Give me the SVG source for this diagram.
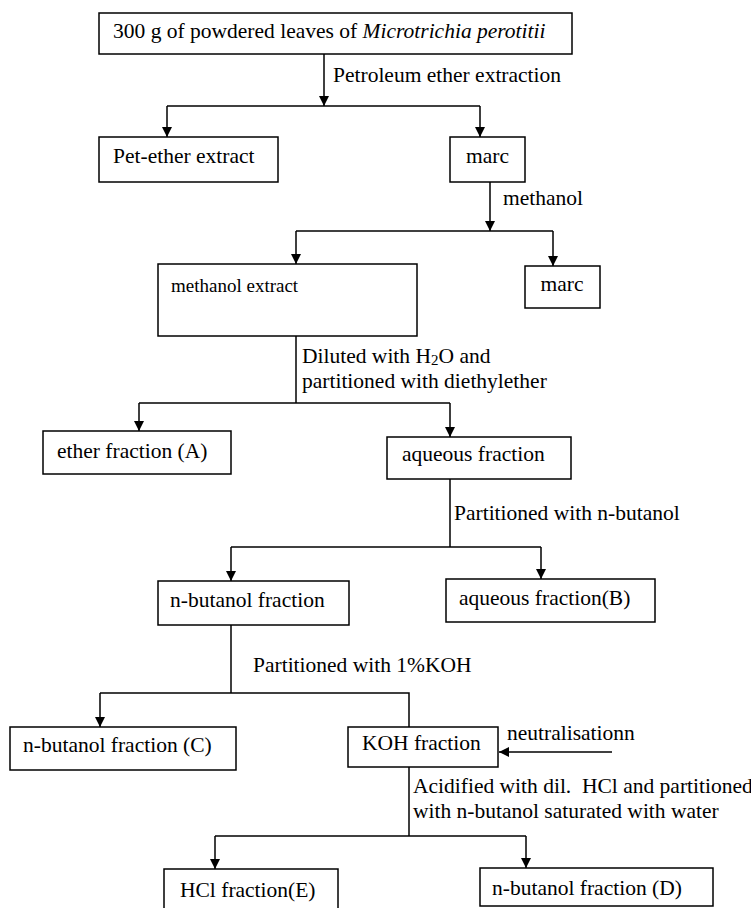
<svg xmlns="http://www.w3.org/2000/svg" width="751" height="908" viewBox="0 0 751 908">
<defs>
<marker id="ah" viewBox="0 0 10 10" refX="10" refY="5" markerWidth="10" markerHeight="10" markerUnits="userSpaceOnUse" orient="auto">
<path d="M0,0 L10,5 L0,10 z" fill="#000"/>
</marker>
<style>
.box{fill:#fff;stroke:#000;stroke-width:1.5}
.ln{fill:none;stroke:#000;stroke-width:1.5}
.ar{fill:none;stroke:#000;stroke-width:1.5;marker-end:url(#ah)}
text{font-family:"Liberation Serif","Times New Roman",serif;font-size:21.5px;fill:#000}
.sm{font-size:19px}
</style>
</defs>
<rect width="751" height="908" fill="#fff"/>
<g id="connectors">
<path class="ar" d="M324,54 V106"/>
<path class="ln" d="M167,106 H480"/>
<path class="ar" d="M167,106 V137"/>
<path class="ar" d="M480,106 V137"/>
<path class="ar" d="M490,182 V231"/>
<path class="ln" d="M296,231 H553"/>
<path class="ar" d="M296,231 V264"/>
<path class="ar" d="M553,231 V266"/>
<path class="ln" d="M296,336 V403"/>
<path class="ln" d="M139,403 H450"/>
<path class="ar" d="M139,403 V431"/>
<path class="ar" d="M450,403 V437"/>
<path class="ln" d="M450,479 V547"/>
<path class="ln" d="M231,547 H541"/>
<path class="ar" d="M231,547 V581"/>
<path class="ar" d="M541,547 V579"/>
<path class="ln" d="M231,625 V693"/>
<path class="ln" d="M100,693 H409 V727"/>
<path class="ar" d="M100,693 V727"/>
<path class="ar" d="M612,752 H499"/>
<path class="ln" d="M409,767 V836"/>
<path class="ln" d="M215,836 H526"/>
<path class="ar" d="M215,836 V869"/>
<path class="ar" d="M526,836 V868"/>
<text x="333" y="82">Petroleum ether extraction</text>
<text x="503" y="205">methanol</text>
<text x="302" y="363">Diluted with H<tspan font-size="15" dy="2">2</tspan><tspan dy="-2">O and</tspan></text>
<text x="302" y="388">partitioned with diethylether</text>
<text x="454" y="520">Partitioned with n-butanol</text>
<text x="253" y="672">Partitioned with 1%KOH</text>
<text x="507" y="740">neutralisationn</text>
<text x="413" y="793">Acidified with dil.&#160; HCl and partitioned</text>
<text x="413" y="818">with n-butanol saturated with water</text>
</g>
<g id="n-start">
<rect class="box" x="99" y="13" width="473" height="41"/>
<text x="113" y="38">300 g of powdered leaves of <tspan font-style="italic">Microtrichia perotitii</tspan></text>
</g>
<g id="n-petether">
<rect class="box" x="99" y="137" width="179" height="45"/>
<text x="113" y="163">Pet-ether extract</text>
</g>
<g id="n-marc1">
<rect class="box" x="450" y="137" width="75" height="45"/>
<text x="487.5" y="163" text-anchor="middle">marc</text>
</g>
<g id="n-methanol-extract">
<rect class="box" x="158" y="264" width="259" height="72"/>
<text class="sm" x="171" y="292">methanol extract</text>
</g>
<g id="n-marc2">
<rect class="box" x="525" y="266" width="75" height="42"/>
<text x="562" y="291" text-anchor="middle">marc</text>
</g>
<g id="n-ether-A">
<rect class="box" x="43" y="431" width="188" height="43"/>
<text x="57" y="458">ether fraction (A)</text>
</g>
<g id="n-aqueous">
<rect class="box" x="387" y="437" width="184" height="42"/>
<text x="402" y="461">aqueous fraction</text>
</g>
<g id="n-butanol">
<rect class="box" x="158" y="581" width="191" height="44"/>
<text x="170" y="607">n-butanol fraction</text>
</g>
<g id="n-aqueous-B">
<rect class="box" x="446" y="579" width="209" height="43"/>
<text x="459" y="605">aqueous fraction(B)</text>
</g>
<g id="n-butanol-C">
<rect class="box" x="10" y="727" width="226" height="43"/>
<text x="23" y="752">n-butanol fraction (C)</text>
</g>
<g id="n-koh">
<rect class="box" x="348" y="727" width="150" height="40"/>
<text x="362" y="750">KOH fraction</text>
</g>
<g id="n-hcl-E">
<rect class="box" x="164" y="869" width="174" height="45"/>
<text x="180" y="897">HCl fraction(E)</text>
</g>
<g id="n-butanol-D">
<rect class="box" x="480" y="868" width="233" height="38"/>
<text x="492" y="895">n-butanol fraction (D)</text>
</g>
</svg>
